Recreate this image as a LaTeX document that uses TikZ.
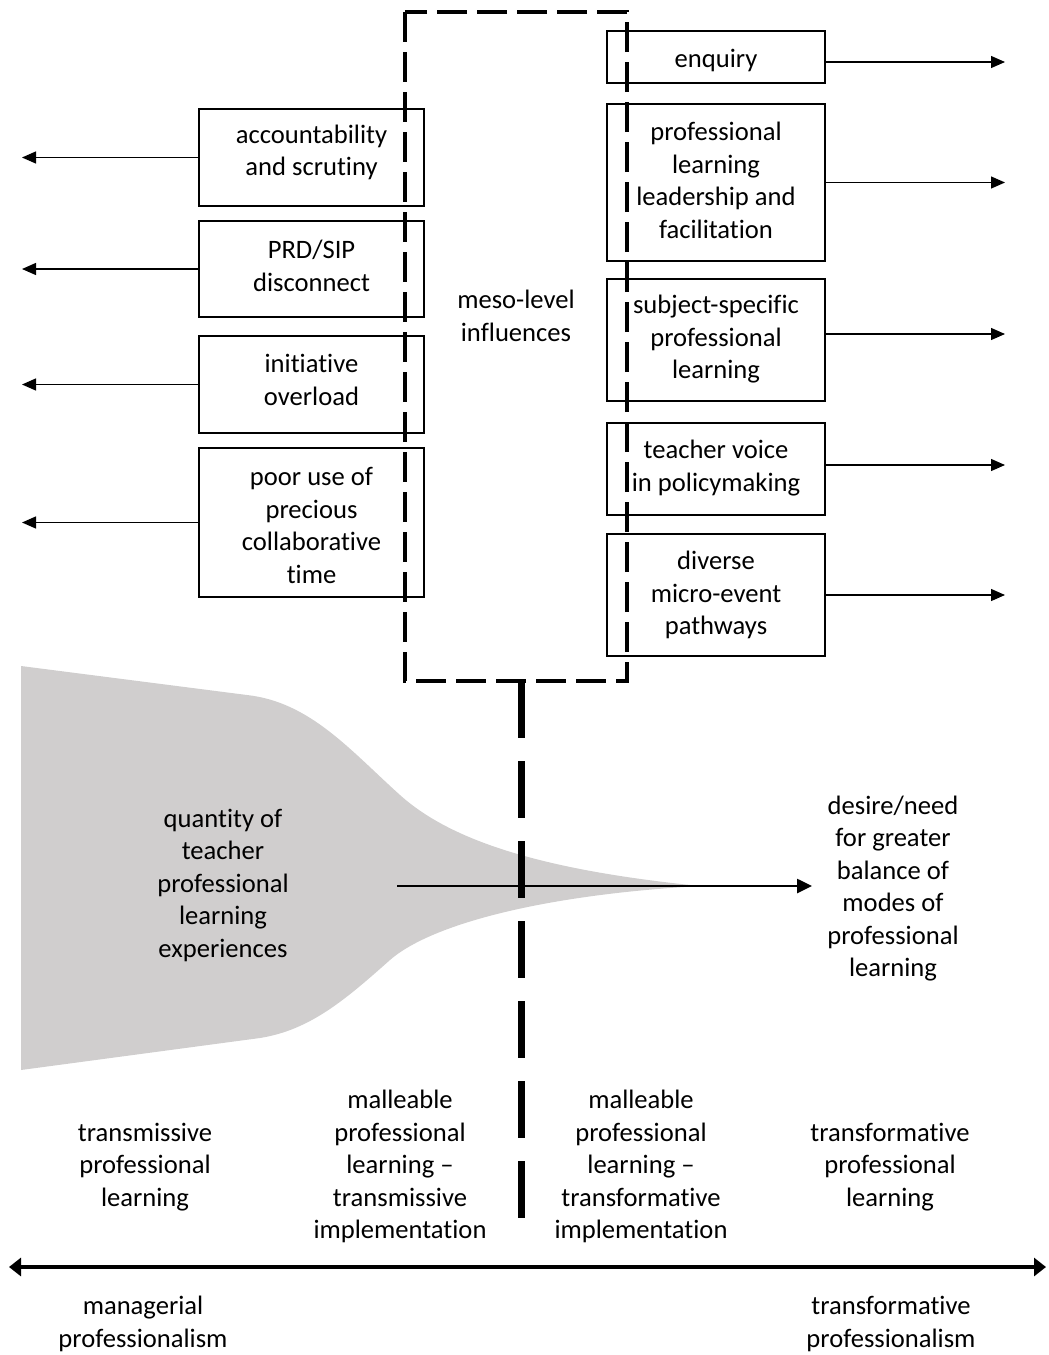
\documentclass[tikz,border=0pt]{standalone}
\usepackage{fontspec}
\setmainfont{Carlito}[Ligatures=NoCommon]
\usetikzlibrary{arrows.meta}
\definecolor{funnel}{HTML}{D0CECE}
\begin{document}
\begin{tikzpicture}[x=1pt,y=-1pt,
  every node/.style={font=\fontsize{26.6}{32.5}\selectfont, align=center, inner sep=0pt},
  box/.style={draw, line width=1.6pt, fill=white, minimum width=#1},
  lbox/.style={box=225pt},
  rbox/.style={box=218pt},
  thin arrow/.style={line width=1.3pt, -{Triangle[length=14pt,width=12pt]}},
  meso/.style={line width=4pt, dash pattern=on 30pt off 10pt},
  divider/.style={line width=7pt, dash pattern=on 57pt off 23pt}]
\useasboundingbox (0,0) rectangle (1049,1355);

% funnel showing the quantity of experiences
\fill[funnel] (21,666) -- (247,695)
  .. controls (310,702) and (350,750) .. (400,795)
  .. controls (450,840) and (540,870) .. (700,886)
  .. controls (540,895) and (430,925) .. (390,960)
  .. controls (345,1000) and (310,1030) .. (260,1038)
  -- (21,1070) -- cycle;
\node (qty) at (223,885) {quantity of\\teacher\\professional\\learning\\experiences};

% left-hand boxes and their texts
\node[lbox, minimum height=97pt] (acc) at (311.5,157.5) {};
\node[lbox, minimum height=96pt] (prd) at (311.5,269) {};
\node[lbox, minimum height=97pt] (ini) at (311.5,384.5) {};
\node[lbox, minimum height=149pt] (poor) at (311.5,522.5) {};
\node (acc-t) at (311.5,152.5) {accountability\\and scrutiny};
\node (prd-t) at (311.5,266) {PRD/SIP\\disconnect};
\node (ini-t) at (311.5,380) {initiative\\overload};
\node (poor-t) at (311.5,525.5) {poor use of\\precious\\collaborative\\time};

% right-hand boxes and their texts
\node[rbox, minimum height=52pt] (enq) at (716,57) {};
\node[rbox, minimum height=157pt] (lead) at (716,182.5) {};
\node[rbox, minimum height=122pt] (subj) at (716,340) {};
\node[rbox, minimum height=92pt] (voice) at (716,469) {};
\node[rbox, minimum height=122pt] (div) at (716,595) {};
\node (enq-t) at (716,60) {enquiry};
\node (lead-t) at (716,180.5) {professional\\learning\\leadership and\\facilitation};
\node (subj-t) at (716,339.5) {subject-specific\\professional\\learning};
\node (voice-t) at (716,468) {teacher voice\\in policymaking};
\node (div-t) at (716,595) {diverse\\micro-event\\pathways};

% arrow end lines
\coordinate (xl) at (22,0);
\coordinate (xr) at (1005,0);
\foreach \b in {acc,prd,ini,poor}
  \draw[thin arrow] (\b.west) -- (\b.west -| xl);
\foreach \b/\s in {enq/-5pt,lead/0pt,subj/6pt,voice/4pt,div/0pt}
  \draw[thin arrow] ([yshift=\s]\b.east) -- ([yshift=\s]\b.east -| xr);

% meso-level frame
\coordinate (m1) at (405,12);
\coordinate (m2) at (627,681);
\draw[meso] (m1) rectangle (m2);
\node (mesotxt) at (516,316) {meso-level\\influences};

% arrow through the funnel
\coordinate (fa) at (397,886);
\coordinate (fb) at (812,886);
\draw[line width=2.6pt, -{Triangle[length=15pt,width=14pt]}] (fa) -- (fb);
\node (desire) at (893,888.5) {desire/need\\for greater\\balance of\\modes of\\professional\\learning};

% dividing line
\coordinate (d1) at (521,681);
\coordinate (d2) at (521,1220);
\draw[divider] (d1) -- (d2);

% modes of professional learning
\node (t1) at (145,1167) {transmissive\\professional\\learning};
\node (t2) at (400,1166.5) {malleable\\professional\\learning --\\transmissive\\implementation};
\node (t3) at (641,1166.5) {malleable\\professional\\learning --\\transformative\\implementation};
\node (t4) at (890,1167) {transformative\\professional\\learning};

% professionalism spectrum
\coordinate (s1) at (9,1267);
\coordinate (s2) at (1046,1267);
\draw[line width=4.5pt, {Triangle[length=12pt,width=18pt]}-{Triangle[length=12pt,width=18pt]}] (s1) -- (s2);
\node (man) at (143,1324) {managerial\\professionalism};
\node (trp) at (891,1324) {transformative\\professionalism};
\end{tikzpicture}
\end{document}
